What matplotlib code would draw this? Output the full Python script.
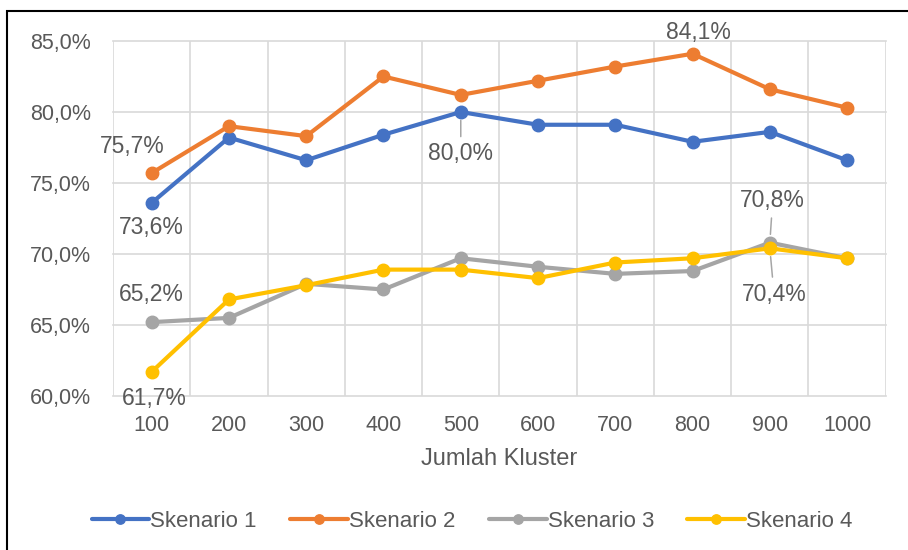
import matplotlib.pyplot as plt
from matplotlib.patches import Rectangle
from matplotlib.ticker import FuncFormatter, FixedLocator

plt.rcParams['font.family'] = ['Liberation Sans', 'DejaVu Sans']

# ------------------------------------------------------------
# Data: accuracy per number of clusters
# ------------------------------------------------------------
clusters = ['100', '200', '300', '400', '500', '600', '700', '800', '900', '1000']
skenario_1 = [73.6, 78.2, 76.6, 78.4, 80.0, 79.1, 79.1, 77.9, 78.6, 76.6]
skenario_2 = [75.7, 79.0, 78.3, 82.5, 81.2, 82.2, 83.2, 84.1, 81.6, 80.3]
skenario_3 = [65.2, 65.5, 67.9, 67.5, 69.7, 69.1, 68.6, 68.8, 70.8, 69.7]
skenario_4 = [61.7, 66.8, 67.8, 68.9, 68.9, 68.3, 69.4, 69.7, 70.4, 69.7]

series = [
    ('Skenario 1', skenario_1, '#4472C4'),
    ('Skenario 2', skenario_2, '#ED7D31'),
    ('Skenario 3', skenario_3, '#A5A5A5'),
    ('Skenario 4', skenario_4, '#FFC000'),
]

text_color = '#595959'

fig = plt.figure(figsize=(9.08, 5.5), dpi=100)
ax = fig.add_axes([0.1245, 0.28, 0.851, 0.6455])

x = list(range(len(clusters)))
for name, vals, col in series:
    ax.plot(x, vals, color=col, lw=3.0, marker='o', markersize=9,
            label=name, solid_capstyle='round', zorder=3)

ax.set_xlim(-0.5, len(clusters) - 0.5)
ax.set_ylim(60, 85)
ax.set_xticks(x)
ax.set_xticklabels(clusters)
ax.xaxis.set_minor_locator(FixedLocator([i - 0.5 for i in range(len(clusters) + 1)]))
ax.set_yticks([60, 65, 70, 75, 80, 85])
ax.yaxis.set_major_formatter(FuncFormatter(lambda v, p: f"{v:.1f}%".replace('.', ',')))

ax.grid(True, which='minor', axis='x', color='#D9D9D9', lw=1.2)
ax.grid(True, which='major', axis='y', color='#D9D9D9', lw=1.2)
for gl in ax.xaxis.get_minorticklines() + ax.get_xgridlines() + ax.get_ygridlines():
    gl.set_clip_on(False)
ax.set_axisbelow(True)
for s in ax.spines.values():
    s.set_visible(False)
ax.tick_params(which='both', length=0, colors=text_color, labelsize=15.5)
ax.tick_params(axis='x', pad=14)
ax.tick_params(axis='y', pad=16)

ax.set_xlabel('Jumlah Kluster', fontsize=17, color=text_color, labelpad=8)

# Data labels
def label(i, vals, dx, dy, leader=False):
    ax.annotate(f"{vals[i]:.1f}%".replace('.', ','), xy=(i, vals[i]),
                xytext=(dx, dy), textcoords='offset points',
                ha='center', va='center', fontsize=16.5, color=text_color,
                zorder=4,
                arrowprops=dict(arrowstyle='-', color='#A6A6A6', lw=1.1,
                                shrinkA=2, shrinkB=6) if leader else None)

label(0, skenario_2, -14, 19)
label(0, skenario_1, 0, -18)
label(4, skenario_1, 0, -30, leader=True)
label(7, skenario_2, 4, 15)
label(0, skenario_3, 0, 20)
label(0, skenario_4, 2, -19)
label(8, skenario_3, 2, 30, leader=True)
label(8, skenario_4, 3, -33, leader=True)

leg = fig.legend(loc='center', bbox_to_anchor=(0.52, 0.052), ncol=4, frameon=False,
                 fontsize=16, handlelength=2.6, columnspacing=1.5, handletextpad=0.05,
                 markerscale=0.75)
for t in leg.get_texts():
    t.set_color(text_color)

# Chart frame
fig.patches.append(Rectangle((7 / 908, -0.05), 1.05, 1 - 11 / 550 + 0.05,
                             transform=fig.transFigure, fill=False,
                             edgecolor='black', lw=1.5))

fig.savefig('out.png', dpi=100)
